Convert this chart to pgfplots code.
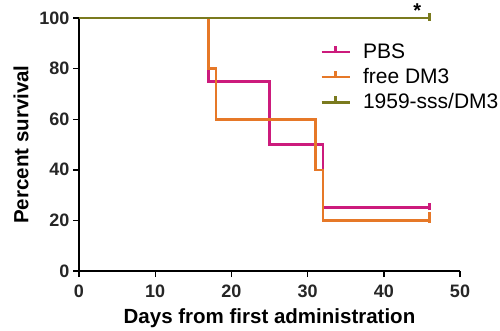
\documentclass[border=0pt]{standalone}
\usepackage{fontspec}
\setmainfont{Liberation Sans}
\usepackage{pgfplots}
\pgfplotsset{compat=1.18}
\definecolor{cpbs}{RGB}{204,27,124}
\definecolor{cdm}{RGB}{230,120,40}
\definecolor{cgr}{RGB}{122,122,30}
\begin{document}
\begin{tikzpicture}[x=1bp,y=1bp]
\useasboundingbox (0,0) rectangle (500,330);
\begin{axis}[
  at={(79bp,59bp)}, anchor=south west,
  scale only axis, width=381bp, height=253bp,
  xmin=0, xmax=50, ymin=0, ymax=100,
  axis x line=bottom, axis y line=left,
  axis line style={line width=1.6bp, -},
  xtick={0,10,...,50}, ytick={0,20,...,100},
  tick style={line width=1.4bp, black},
  tick align=outside, major tick length=6bp,
  ticklabel style={font=\fontsize{18bp}{20bp}\selectfont\bfseries, text=black!85},
  xticklabel style={yshift=-4bp},
  yticklabel style={xshift=0bp},
  /pgf/number format/assume math mode=true,
  xlabel={Days from first administration},
  ylabel={Percent survival},
  label style={font=\fontsize{20.5bp}{22bp}\selectfont\bfseries},
  xlabel style={at={(0.5,0)}, anchor=north, yshift=-34bp},
  ylabel style={at={(0,0.5)}, anchor=south, yshift=47bp},
  clip=false,
  legend style={draw=none, fill=none, at={(0.63,0.91)}, anchor=north west,
    font=\fontsize{21bp}{23bp}\selectfont, row sep=4.5bp, inner sep=1bp,
    /tikz/every odd column/.append style={column sep=5bp}},
  legend cell align=left,
  legend image code/.code={
    \draw[#1, line width=2.8bp] (0bp,0bp) -- (28bp,0bp);
    \draw[#1, line width=2.8bp] (14bp,-1bp) -- (14bp,6bp);
  },
  legend style={nodes={inner xsep=7bp}},
]
\addplot[cpbs, line width=2.6bp, const plot] coordinates {
 (0,100) (17,75) (25,50) (32,25) (46,25)};
\addlegendentry{PBS}
\addplot[cdm, line width=2.6bp, const plot] coordinates {
 (0,100) (17,80) (18,60) (31,40) (32,20) (46,20)};
\addlegendentry{free DM3}
\addplot[cgr, line width=2.6bp, const plot] coordinates {
 (0,100) (46,100)};
\addlegendentry{1959-sss/DM3}
\addplot[cpbs, line width=2.2bp, forget plot] coordinates {(46,24) (46,27)};
\addplot[cdm, line width=2.2bp, forget plot] coordinates {(46,19) (46,23.5)};
\addplot[cgr, line width=2.2bp, forget plot] coordinates {(46,99) (46,102)};
\node[font=\fontsize{20bp}{22bp}\selectfont\bfseries] at (axis cs:44.4,102.8) {*};
\end{axis}
\end{tikzpicture}
\end{document}
